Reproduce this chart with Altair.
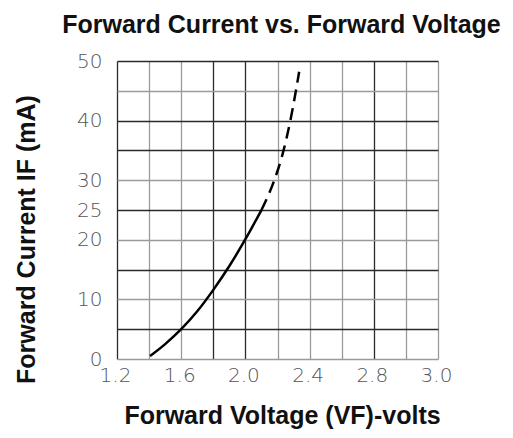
import altair as alt
import pandas as pd

# Solid (measured) part of the curve
solid_v = [1.406, 1.5, 1.6, 1.7, 1.8, 1.9, 2.0, 2.10]
solid_i = [0.5, 2.5, 5.0, 8.0, 11.6, 15.6, 20.1, 25.0]
# Dashed (extrapolated) part of the curve
dash_v = [2.10, 2.18, 2.23, 2.28, 2.335]
dash_i = [25.0, 30.0, 34.2, 40.0, 48.2]

# Axis grid / tick labels as in the datasheet
x_grid = [1.2, 1.4, 1.6, 1.8, 2.0, 2.2, 2.4, 2.6, 2.8, 3.0, 3.2]
x_label_pos = [1.2, 1.6, 2.0, 2.4, 2.8, 3.2]
x_label_txt = ["1.2", "1.6", "2.0", "2.4", "2.8", "3.0"]
x_dark = [1.2, 1.8, 2.0, 2.8]
y_grid = [0, 5, 10, 15, 20, 25, 30, 35, 40, 45, 50]
y_label_pos = [0, 10, 20, 25, 30, 40, 50]
y_dark = [5, 15, 25, 35, 40, 50]

solid = pd.DataFrame({"v": solid_v, "i": solid_i})
dashed = pd.DataFrame({"v": dash_v, "i": dash_i})

# label expressions built from the lists
x_expr = ""
for p, t in zip(x_label_pos, x_label_txt):
    x_expr += f"round(datum.value*10)=={round(p*10)} ? '{t}' : "
x_expr += "''"
y_expr = "indexof([" + ",".join(str(v) for v in y_label_pos) + "], datum.value) >= 0 ? datum.label : ''"
x_dark_test = "indexof([" + ",".join(str(round(v * 10)) for v in x_dark) + "], round(datum.value*10)) >= 0"
y_dark_test = "indexof([" + ",".join(str(v) for v in y_dark) + "], datum.value) >= 0"

label_font = "DejaVu Sans"
title_font = "Liberation Sans"

x_enc = alt.X(
    "v:Q",
    scale=alt.Scale(domain=[1.2, 3.2], nice=False, zero=False),
    axis=alt.Axis(
        values=x_grid,
        labelExpr=x_expr,
        grid=True,
        gridColor={"condition": {"test": x_dark_test, "value": "#2a2a2a"}, "value": "#9a9a9a"},
        gridWidth=1.3,
        domain=False,
        ticks=False,
        tickSize=0,
        labelFont=label_font,
        labelFontSize=20,
        labelFontWeight=200,
        labelColor="#555555",
        labelPadding=6,
        labelOffset=-2,
        labelFlush=False,
        labelOverlap=False,
        title="Forward Voltage (VF)-volts",
        titleFont=title_font,
        titleFontSize=25,
        titleFontWeight="bold",
        titleColor="#111111",
        titleX=165,
        titleY=64,
        titleBaseline="alphabetic",
        titleAlign="center",
    ),
)
y_enc = alt.Y(
    "i:Q",
    scale=alt.Scale(domain=[0, 50], nice=False),
    axis=alt.Axis(
        values=y_grid,
        labelExpr=y_expr,
        grid=True,
        gridColor={"condition": {"test": y_dark_test, "value": "#2a2a2a"}, "value": "#9a9a9a"},
        gridWidth=1.3,
        domain=False,
        ticks=False,
        tickSize=0,
        labelFont=label_font,
        labelFontSize=20,
        labelFontWeight=200,
        labelColor="#555555",
        labelPadding=15,
        labelFlush=False,
        labelOverlap=False,
        title="Forward Current IF (mA)",
        titleFont=title_font,
        titleFontSize=25,
        titleFontWeight="bold",
        titleColor="#111111",
        titleX=-83,
        titleY=178,
        titleBaseline="alphabetic",
        titleAlign="center",
        titleAngle=270,
    ),
)

solid_line = alt.Chart(solid).mark_line(
    color="#000000", strokeWidth=2.5, interpolate="monotone"
)

dashed_line = alt.Chart(dashed).mark_line(
    color="#000000", strokeWidth=2.5, interpolate="monotone", strokeDash=[12, 7]
)

chart = (
    alt.layer(solid_line, dashed_line)
    .encode(x=x_enc, y=y_enc)
    .properties(
        width=321,
        height=298,
        autosize=alt.AutoSizeParams(type="none"),
        padding={"left": 109, "top": 53, "right": 67, "bottom": 71},
        title=alt.TitleParams(
            "Forward Current vs. Forward Voltage",
            font=title_font,
            fontSize=25,
            fontWeight="bold",
            color="#111111",
            anchor="middle",
            dx=4,
            offset=13,
        ),
        background="white",
    )
    .configure_view(stroke=None)
)

chart.save("out.html", embed_options={"renderer": "svg", "actions": False})
